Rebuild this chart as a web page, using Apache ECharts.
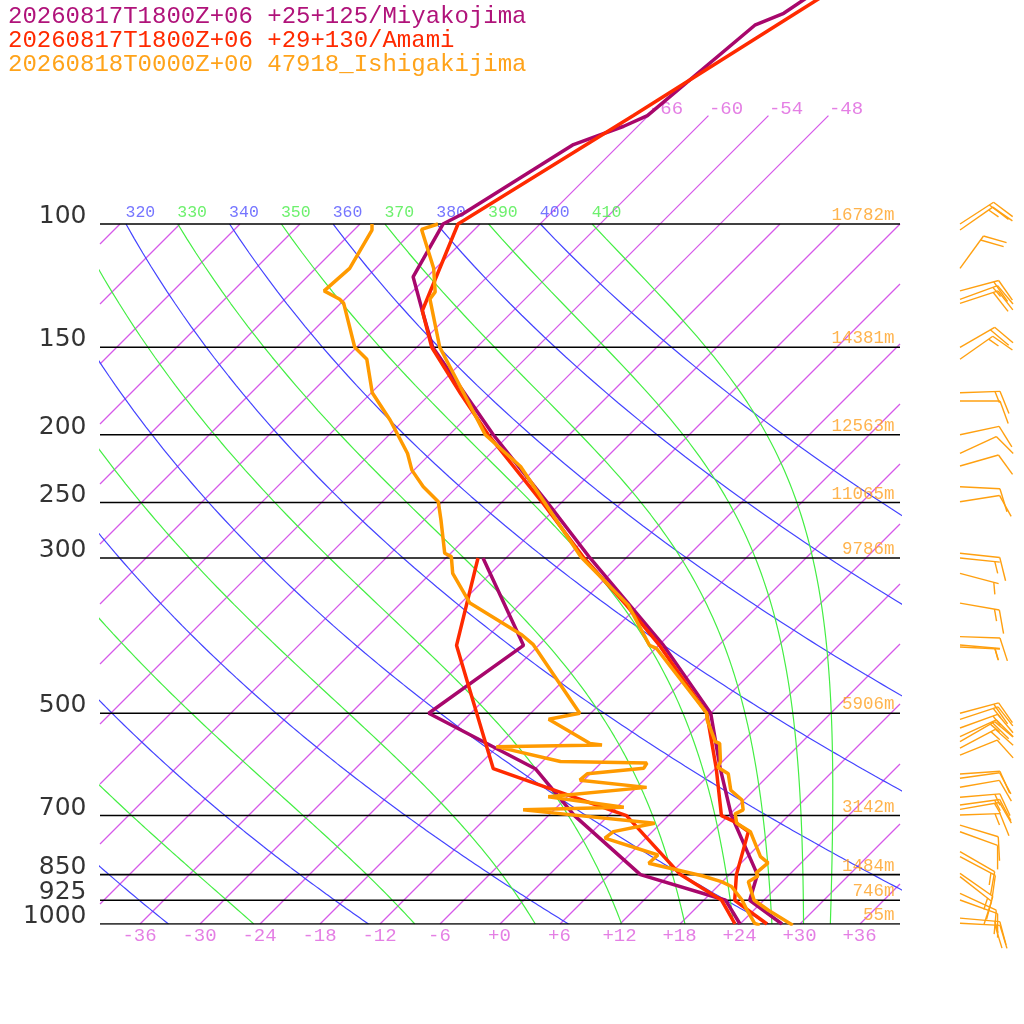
<!DOCTYPE html>
<html>
<head>
<meta charset="utf-8">
<script src="https://cdn.jsdelivr.net/npm/echarts@6/dist/echarts.min.js"></script>
<style>
  html, body { margin: 0; padding: 0; background: #fff; }
  #chart { width: 1024px; height: 1024px; }
</style>
</head>
<body>
<div id="chart"></div>
<script>
// skew-T log-p, three soundings

var titles = [
  '20260817T1800Z+06 +25+125/Miyakojima',
  '20260817T1800Z+06 +29+130/Amami',
  '20260818T0000Z+00 47918_Ishigakijima'
];

var pressureLevels = [100, 150, 200, 250, 300, 500, 700, 850, 925, 1000];
var heightLabels = ['16782m', '14381m', '12563m', '11065m', '9786m', '5906m', '3142m', '1484m', '746m', '55m'];
var tempTicks = [-36, -30, -24, -18, -12, -6, 0, 6, 12, 18, 24, 30, 36];
var topIsotherms = [-66, -60, -54, -48];
var dryThetas = [240, 260, 280, 300, 320, 340, 360, 380, 400];
var moistThetas = [250, 270, 290, 310, 330, 350, 370, 390, 410];

// Miyakojima (model)
var miyaP  = [1000, 925, 850, 700, 600, 500, 400, 300, 250, 200, 150, 133, 119, 100, 96.5, 77, 72.5, 70, 52, 50, 47];
var miyaT  = [28.2, 22.6, 20.8, 12.3, 6.5, 0.0, -11.5, -27.6, -37.4, -49.6, -64.4, -69.1, -73.4, -75.7, -74.7, -70.6, -67.4, -66.1, -64.4, -62.7, -61.8];
var miyaDP = [1000, 925, 850, 700, 600, 500, 400, 300];
var miyaTd = [24.0, 20.2, 9.1, -3.4, -12.0, -28.2, -25.5, -38.3];

// Amami (model)
var amamiP  = [1000, 925, 850, 738, 714, 700, 600, 500, 400, 350, 300, 250, 200, 175, 150, 133, 100, 70, 50, 47];
var amamiT  = [26.7, 21.1, 18.7, 15.6, 13.2, 11.3, 6.1, -0.4, -11.9, -19.3, -28.2, -37.9, -50.1, -56.9, -64.5, -69.1, -74.2, -67.5, -61.5, -60.4];
var amamiDP = [1000, 925, 850, 700, 600, 500, 400, 300];
var amamiTd = [23.5, 19.8, 13.1, 1.8, -16.2, -23.4, -32.2, -38.8];

// Ishigakijima (observed)
var ishiP  = [1004, 955, 924, 870, 854, 845, 818, 801, 738, 718, 696, 687, 665, 644, 610, 597, 586, 552, 549, 511, 500,
              404, 400, 350, 299, 222, 200, 174.5, 150, 128, 125, 115.7, 101.8, 100];
var ishiT  = [29.4, 25.4, 23.0, 20.6, 21.0, 20.5, 20.7, 19.3, 15.8, 13.6, 12.5, 12.9, 11.8, 9.7, 7.8, 6.1, 5.8, 3.9, 3.3, 0.3, -0.4,
              -11.9, -12.9, -19.1, -28.6, -43.7, -50.4, -56.7, -63.7, -69.5, -69.7, -72.2, -77.3, -76.2];
var ishiDP = [1004, 997.7, 955, 924, 884, 870, 854, 819, 797, 754, 738, 718, 687, 681, 658, 638, 623, 610, 599, 589, 586,
              558, 555, 552, 510, 500, 399, 386.5, 348, 315.5, 298.7, 295.4, 264.8, 249.3, 237.3, 224.7, 212.7, 190.5,
              174.2, 156, 150, 129.8, 128.1, 124.6, 115.7, 102, 100];
var ishiTd = [26.1, 25.4, 23.3, 21.8, 19.4, 17.9, 15.5, 8.8, 8.9, 1.9, 2.1, 5.4, -9.1, 0.7, -7.9, 1.0, -6.4, -6.3, -1.2, -1.4, -10.2,
              -18.1, -7.7, -9.1, -15.6, -13.1, -24.6, -26.7, -35.1, -39.8, -41.6, -42.6, -46.3, -48.4, -51.4, -54.2, -56.3, -61.4,
              -65.9, -69.8, -72.2, -77.7, -78.5, -80.9, -80.6, -82.2, -82.8];

// Ishigakijima winds (direction deg, speed kt)
var windP   = [100, 102, 115.7, 124.6, 128.1, 129.8, 150, 156, 174.2, 179, 200, 212.7, 221.7, 237.3, 249.3, 295.4, 300, 315.5,
               348, 388.6, 399.4, 402, 500, 510, 524.8, 540, 548.9, 560.6, 573.6, 610.5, 619.2, 637.8, 659.2, 676.1, 685.9,
               698.7, 722.2, 738.2, 788, 801.4, 846.4, 855.6, 904, 924, 981, 997.7];
var windDir = [57, 55, 36, 75, 70, 72, 60, 55, 88, 90, 78, 65, 74, 93, 81, 96, 96, 105,
               100, 92, 95, 93, 75, 72, 70, 65, 60, 62, 68, 86, 82, 80, 85, 82, 80,
               88, 107, 110, 120, 118, 125, 128, 115, 110, 95, 93];
var windSpd = [20, 15, 20, 20, 15, 20, 20, 15, 15, 10, 10, 10, 10, 10, 10, 10, 5, 5,
               15, 10, 5, 5, 20, 15, 15, 20, 15, 15, 10, 10, 10, 10, 15, 15, 15,
               15, 10, 10, 10, 15, 10, 15, 10, 10, 15, 20];

var pTop = 47.86;      // top edge of the diagram
var SKEW = 70;         // deg C of skew per decade of pressure
var KAPPA = 0.2857;

var colMiya = '#a8076c', colAmami = '#ff2a00', colIshi = '#ff9a00';
var colIso = '#d55ae9';
var monoFont = '"Liberation Mono", monospace';

function sk(p, t) { return [t + SKEW * Math.log10(1000 / p), p]; }
function profile(ps, ts) { return ps.map(function (p, i) { return sk(p, ts[i]); }); }

function lineSeries(data, color, width, z) {
  return { type: 'line', data: data, symbol: 'none', silent: true, clip: true,
           lineStyle: { color: color, width: width }, z: z };
}

function labelSeries(points, texts, color, font, size, align, vAlign, offset) {
  return {
    type: 'scatter', data: points, symbolSize: 1, silent: true, clip: false, z: 5,
    itemStyle: { color: 'rgba(0,0,0,0)' },
    label: {
      show: true, position: [0, 0], align: align, verticalAlign: vAlign, offset: offset,
      color: color, fontFamily: font, fontSize: size,
      formatter: function (prm) { return texts[prm.dataIndex]; }
    }
  };
}

var series = [];

// isotherms: straight segments in skewed space, cut to the diagram box
var isoSegs = [];
for (var iso = -108; iso <= 36; iso += 6) {
  var lmax = topIsotherms.indexOf(iso) >= 0 ? Math.log10(1000 / 70) : 1;
  var l0 = Math.max(0, (-40 - iso) / SKEW), l1 = Math.min(lmax, (40 - iso) / SKEW);
  if (l1 <= l0) continue;
  isoSegs.push([iso + SKEW * l0, 1000 / Math.pow(10, l0), iso + SKEW * l1, 1000 / Math.pow(10, l1)]);
}
series.push({
  type: 'custom', data: isoSegs, silent: true, clip: false, z: 1,
  encode: { x: [0, 2], y: [1, 3] },
  renderItem: function (params, api) {
    var a = api.coord([api.value(0), api.value(1)]);
    var b = api.coord([api.value(2), api.value(3)]);
    return { type: 'line', shape: { x1: a[0], y1: a[1], x2: b[0], y2: b[1] },
             style: { stroke: colIso, lineWidth: 1.2, fill: null } };
  }
});

// dry adiabats
dryThetas.forEach(function (th) {
  var pts = [];
  for (var p = 1000; p >= 100; p -= 5) pts.push(sk(p, th * Math.pow(p / 1000, KAPPA) - 273.15));
  series.push(lineSeries(pts, '#4444ff', 1.2, 1));
});

// pseudo-adiabats, integrated down from 100 hPa
function satVap(tk) { return 6.112 * Math.exp(17.67 * (tk - 273.15) / (tk - 29.65)); }
function dTdp(p, tk) {
  var e = satVap(tk), rs = 0.622 * e / (p - e);
  var Lv = 2.501e6, Rd = 287.04, cp = 1005.7;
  return (Rd * tk + Lv * rs) / (p * (cp + Lv * Lv * rs * 0.622 / (Rd * tk * tk)));
}
moistThetas.forEach(function (th) {
  var tk = th * Math.pow(0.1, KAPPA), p = 100, dp = 1, pts = [sk(100, tk - 273.15)];
  while (p < 1000) {
    var k1 = dTdp(p, tk), k2 = dTdp(p + dp, tk + k1 * dp);
    tk += 0.5 * (k1 + k2) * dp;
    p += dp;
    if (p % 5 === 0) pts.push(sk(p, tk - 273.15));
  }
  series.push(lineSeries(pts, '#44ee44', 1.2, 1));
});

// isobars
pressureLevels.forEach(function (p) {
  series.push(lineSeries([[-40, p], [40, p]], '#000', 1.6, 2));
});

// labels
series.push(labelSeries(pressureLevels.map(function (p) { return [-40, p]; }),
  pressureLevels.map(String), '#000', '"DejaVu Sans", sans-serif', 25, 'right', 'middle', [-13, -7]));
series.push(labelSeries(pressureLevels.map(function (p) { return [40, p]; }),
  heightLabels, '#ffa020', monoFont, 17.5, 'right', 'middle', [-5, -8]));
series.push(labelSeries(tempTicks.map(function (t) { return [t, 1000]; }),
  tempTicks.map(function (t) { return (t < 0 ? '-' : '+') + Math.abs(t); }), '#dd5fdd', monoFont, 19, 'center', 'middle', [0, 12]));
series.push(labelSeries(topIsotherms.map(function (t) { return sk(70, t); }),
  topIsotherms.map(String), '#dd5fdd', monoFont, 19, 'left', 'middle', [1, -6]));
var thVis = [], thPts = [], thCol = [];
dryThetas.concat(moistThetas).forEach(function (th) {
  var pt = sk(100, th * Math.pow(0.1, KAPPA) - 273.15);
  if (pt[0] >= -40 && pt[0] <= 40) { thPts.push(pt); thVis.push(String(th)); thCol.push(dryThetas.indexOf(th) >= 0 ? '#5252ff' : '#48ec48'); }
});
thPts.forEach(function (pt, i) {
  series.push(labelSeries([pt], [thVis[i]], thCol[i], monoFont, 16.5, 'left', 'middle', [0, -11]));
});

// soundings
series.push(lineSeries(profile(miyaP, miyaT), colMiya, 3.5, 10));
series.push(lineSeries(profile(miyaDP, miyaTd), colMiya, 3.5, 10));
series.push(lineSeries(profile(amamiP, amamiT), colAmami, 3.5, 11));
series.push(lineSeries(profile(amamiDP, amamiTd), colAmami, 3.5, 11));
series.push(lineSeries(profile(ishiP, ishiT), colIshi, 3.5, 12));
series.push(lineSeries(profile(ishiDP, ishiTd), colIshi, 3.5, 12));

// wind barbs beside the diagram
series.push({
  type: 'custom', clip: false, silent: true, z: 12,
  data: windP.map(function (p, i) { return [40, p, windDir[i], windSpd[i]]; }),
  encode: { x: 0, y: 1 },
  renderItem: function (params, api) {
    var base = api.coord([api.value(0), api.value(1)]);
    var x0 = base[0] + 60, y0 = base[1];
    var d = api.value(2) * Math.PI / 180, spd = api.value(3);
    var ux = Math.sin(d), uy = -Math.cos(d), L = 40;
    var tx = x0 + ux * L, ty = y0 + uy * L;
    var a = Math.atan2(uy, ux) + 70 * Math.PI / 180;
    var fx = Math.cos(a), fy = Math.sin(a);
    var st = { stroke: '#ffa010', lineWidth: 1.4 };
    var kids = [{ type: 'line', shape: { x1: x0, y1: y0, x2: tx, y2: ty }, style: st }];
    var pos = 0, rest = Math.round(spd / 5) * 5;
    while (rest >= 10) {
      var bx = tx - ux * pos, by = ty - uy * pos;
      kids.push({ type: 'line', shape: { x1: bx, y1: by, x2: bx + fx * 24, y2: by + fy * 24 }, style: st });
      pos += 5; rest -= 10;
    }
    if (rest >= 5) {
      if (pos === 0) pos = 5;
      var hx = tx - ux * pos, hy = ty - uy * pos;
      kids.push({ type: 'line', shape: { x1: hx, y1: hy, x2: hx + fx * 12, y2: hy + fy * 12 }, style: st });
    }
    return { type: 'group', children: kids };
  }
});

var chart = echarts.init(document.getElementById('chart'));
chart.setOption({
  animation: false,
  backgroundColor: '#fff',
  grid: { left: 100, right: 124, top: 0, bottom: 100, show: false },
  xAxis: { type: 'value', min: -40, max: 40, show: false },
  yAxis: { type: 'log', logBase: 10, min: pTop, max: 1000, inverse: true, show: false },
  graphic: titles.map(function (txt, i) {
    return { type: 'text', left: 8, top: 5 + i * 24,
             style: { text: txt, fill: ['#b0137a', colAmami, '#ffa31a'][i], font: '24px ' + monoFont } };
  }),
  series: series
});
</script>
</body>
</html>
